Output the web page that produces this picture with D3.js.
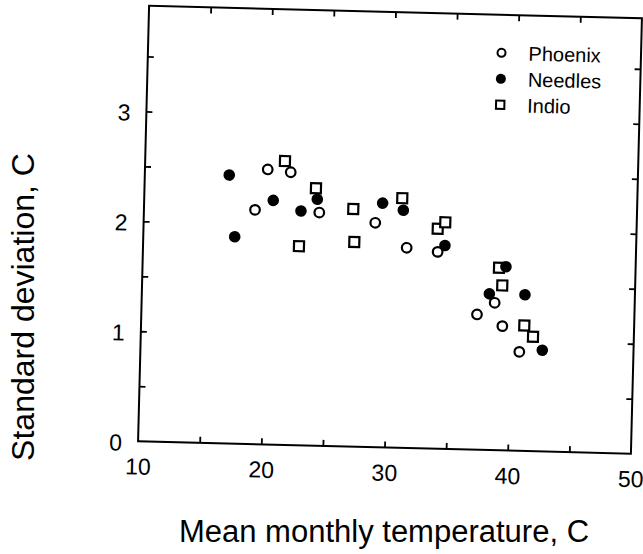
<!DOCTYPE html>
<html><head><meta charset="utf-8">
<script src="https://cdn.jsdelivr.net/npm/d3@7"></script>
<style>
html,body{margin:0;padding:0;background:#fff;}
text{font-family:"Liberation Sans",Arial,Helvetica,sans-serif;fill:#000;}
</style></head>
<body><svg id="c" width="643" height="554"></svg>
<script>
// ---- data ----
const phoenixX = [19.96, 21.83, 19.01, 24.23, 28.79, 31.39, 33.91, 38.64, 37.23, 39.31, 40.74];
const phoenixY = [2.50, 2.48, 2.13, 2.12, 2.04, 1.82, 1.79, 1.34, 1.23, 1.13, 0.90];
const needlesX = [16.85, 24.04, 20.47, 22.74, 29.35, 17.42, 31.04, 34.49, 39.48, 38.19, 41.08, 42.60];
const needlesY = [2.44, 2.24, 2.22, 2.13, 2.22, 1.88, 2.16, 1.85, 1.67, 1.42, 1.42, 0.92];
const indioX = [21.34, 23.91, 26.98, 22.65, 27.13, 30.93, 33.87, 34.47, 38.92, 39.22, 41.09, 41.82];
const indioY = [2.58, 2.34, 2.16, 1.81, 1.86, 2.27, 2.00, 2.06, 1.66, 1.50, 1.14, 1.04];
const seriesNames = ["Phoenix", "Needles", "Indio"];
const xLabelTicks = [10, 20, 30, 40, 50];
const xMinorTicks = [15, 20, 25, 30, 35, 40, 45];
const yLabelTicks = [0, 1, 2, 3];
const yMinorTicks = [0.5, 1, 1.5, 2, 2.5, 3, 3.5];
const xTitle = "Mean monthly temperature, C";
const yTitle = "Standard deviation, C";

// ---- layout ----
const L = 143.5, R = 636.5, T = 12, B = 447.5;
const svg = d3.select("#c");
const g = svg.append("g").attr("transform", "rotate(1.45,390,229.75)");

const x = d3.scaleLinear().domain([10, 50]).range([L, R]);
const y = d3.scaleLinear().domain([0, 3.96]).range([B, T]);

function clean(sel){ sel.select(".domain").remove(); sel.selectAll("line").attr("stroke","#000").attr("stroke-width",1.8); }

g.append("g").attr("transform", `translate(0,${B})`)
  .call(d3.axisBottom(x).tickValues(xMinorTicks).tickSize(-6).tickFormat("")).call(clean);
g.append("g").attr("transform", `translate(0,${T})`)
  .call(d3.axisTop(x).tickValues(xMinorTicks).tickSize(-6).tickFormat("")).call(clean);
g.append("g").attr("transform", `translate(${L},0)`)
  .call(d3.axisLeft(y).tickValues(yMinorTicks).tickSize(-6).tickFormat("")).call(clean);
g.append("g").attr("transform", `translate(${R},0)`)
  .call(d3.axisRight(y).tickValues(yMinorTicks).tickSize(-6).tickFormat("")).call(clean);

// tick labels
const xl = g.append("g").attr("transform", `translate(0,${B})`)
  .call(d3.axisBottom(x).tickValues(xLabelTicks).tickSize(0).tickPadding(17).tickFormat(d3.format("d")));
xl.select(".domain").remove();
xl.selectAll("text").attr("font-size", 23).attr("font-family", '"Liberation Sans",Arial,sans-serif').attr("fill","#000");
const yl = g.append("g").attr("transform", `translate(${L},0)`)
  .call(d3.axisLeft(y).tickValues(yLabelTicks).tickSize(0).tickPadding(16).tickFormat(d3.format("d")));
yl.select(".domain").remove();
yl.selectAll("text").attr("font-size", 23).attr("font-family", '"Liberation Sans",Arial,sans-serif').attr("fill","#000").attr("dy","0.4em");

// frame
g.append("rect").attr("x", L).attr("y", T).attr("width", R - L).attr("height", B - T)
  .attr("fill", "none").attr("stroke", "#000").attr("stroke-width", 2);

// points
const pts = g.append("g");
const sym = d3.symbol().type(d3.symbolSquare).size(100);
pts.selectAll(".ind").data(d3.zip(indioX, indioY)).join("path")
  .attr("d", sym).attr("transform", d => `translate(${x(d[0])},${y(d[1])})`)
  .attr("fill", "#fff").attr("stroke", "#000").attr("stroke-width", 2.2);
pts.selectAll(".nee").data(d3.zip(needlesX, needlesY)).join("circle")
  .attr("cx", d => x(d[0])).attr("cy", d => y(d[1])).attr("r", 5.8).attr("fill", "#000");
pts.selectAll(".pho").data(d3.zip(phoenixX, phoenixY)).join("circle")
  .attr("cx", d => x(d[0])).attr("cy", d => y(d[1])).attr("r", 4.8)
  .attr("fill", "#fff").attr("stroke", "#000").attr("stroke-width", 2.2);

// legend
const lg = g.append("g").attr("transform", "translate(497,50)");
seriesNames.forEach((name, i) => {
  const row = lg.append("g").attr("transform", `translate(0,${i * 26})`);
  if (i === 0) row.append("circle").attr("r", 4).attr("fill", "#fff").attr("stroke", "#000").attr("stroke-width", 2);
  if (i === 1) row.append("circle").attr("r", 5).attr("fill", "#000");
  if (i === 2) row.append("path").attr("d", d3.symbol().type(d3.symbolSquare).size(70)).attr("fill", "#fff").attr("stroke", "#000").attr("stroke-width", 2);
  row.append("text").attr("x", 27).attr("dy", "0.36em").attr("font-size", 20).text(name);
});

// axis titles
svg.append("text").attr("x", 384).attr("y", 542).attr("text-anchor", "middle")
  .attr("font-size", 31).text(xTitle);
svg.append("text").attr("transform", "translate(34,307) rotate(-90)").attr("text-anchor", "middle")
  .attr("font-size", 32).text(yTitle);
</script></body></html>
